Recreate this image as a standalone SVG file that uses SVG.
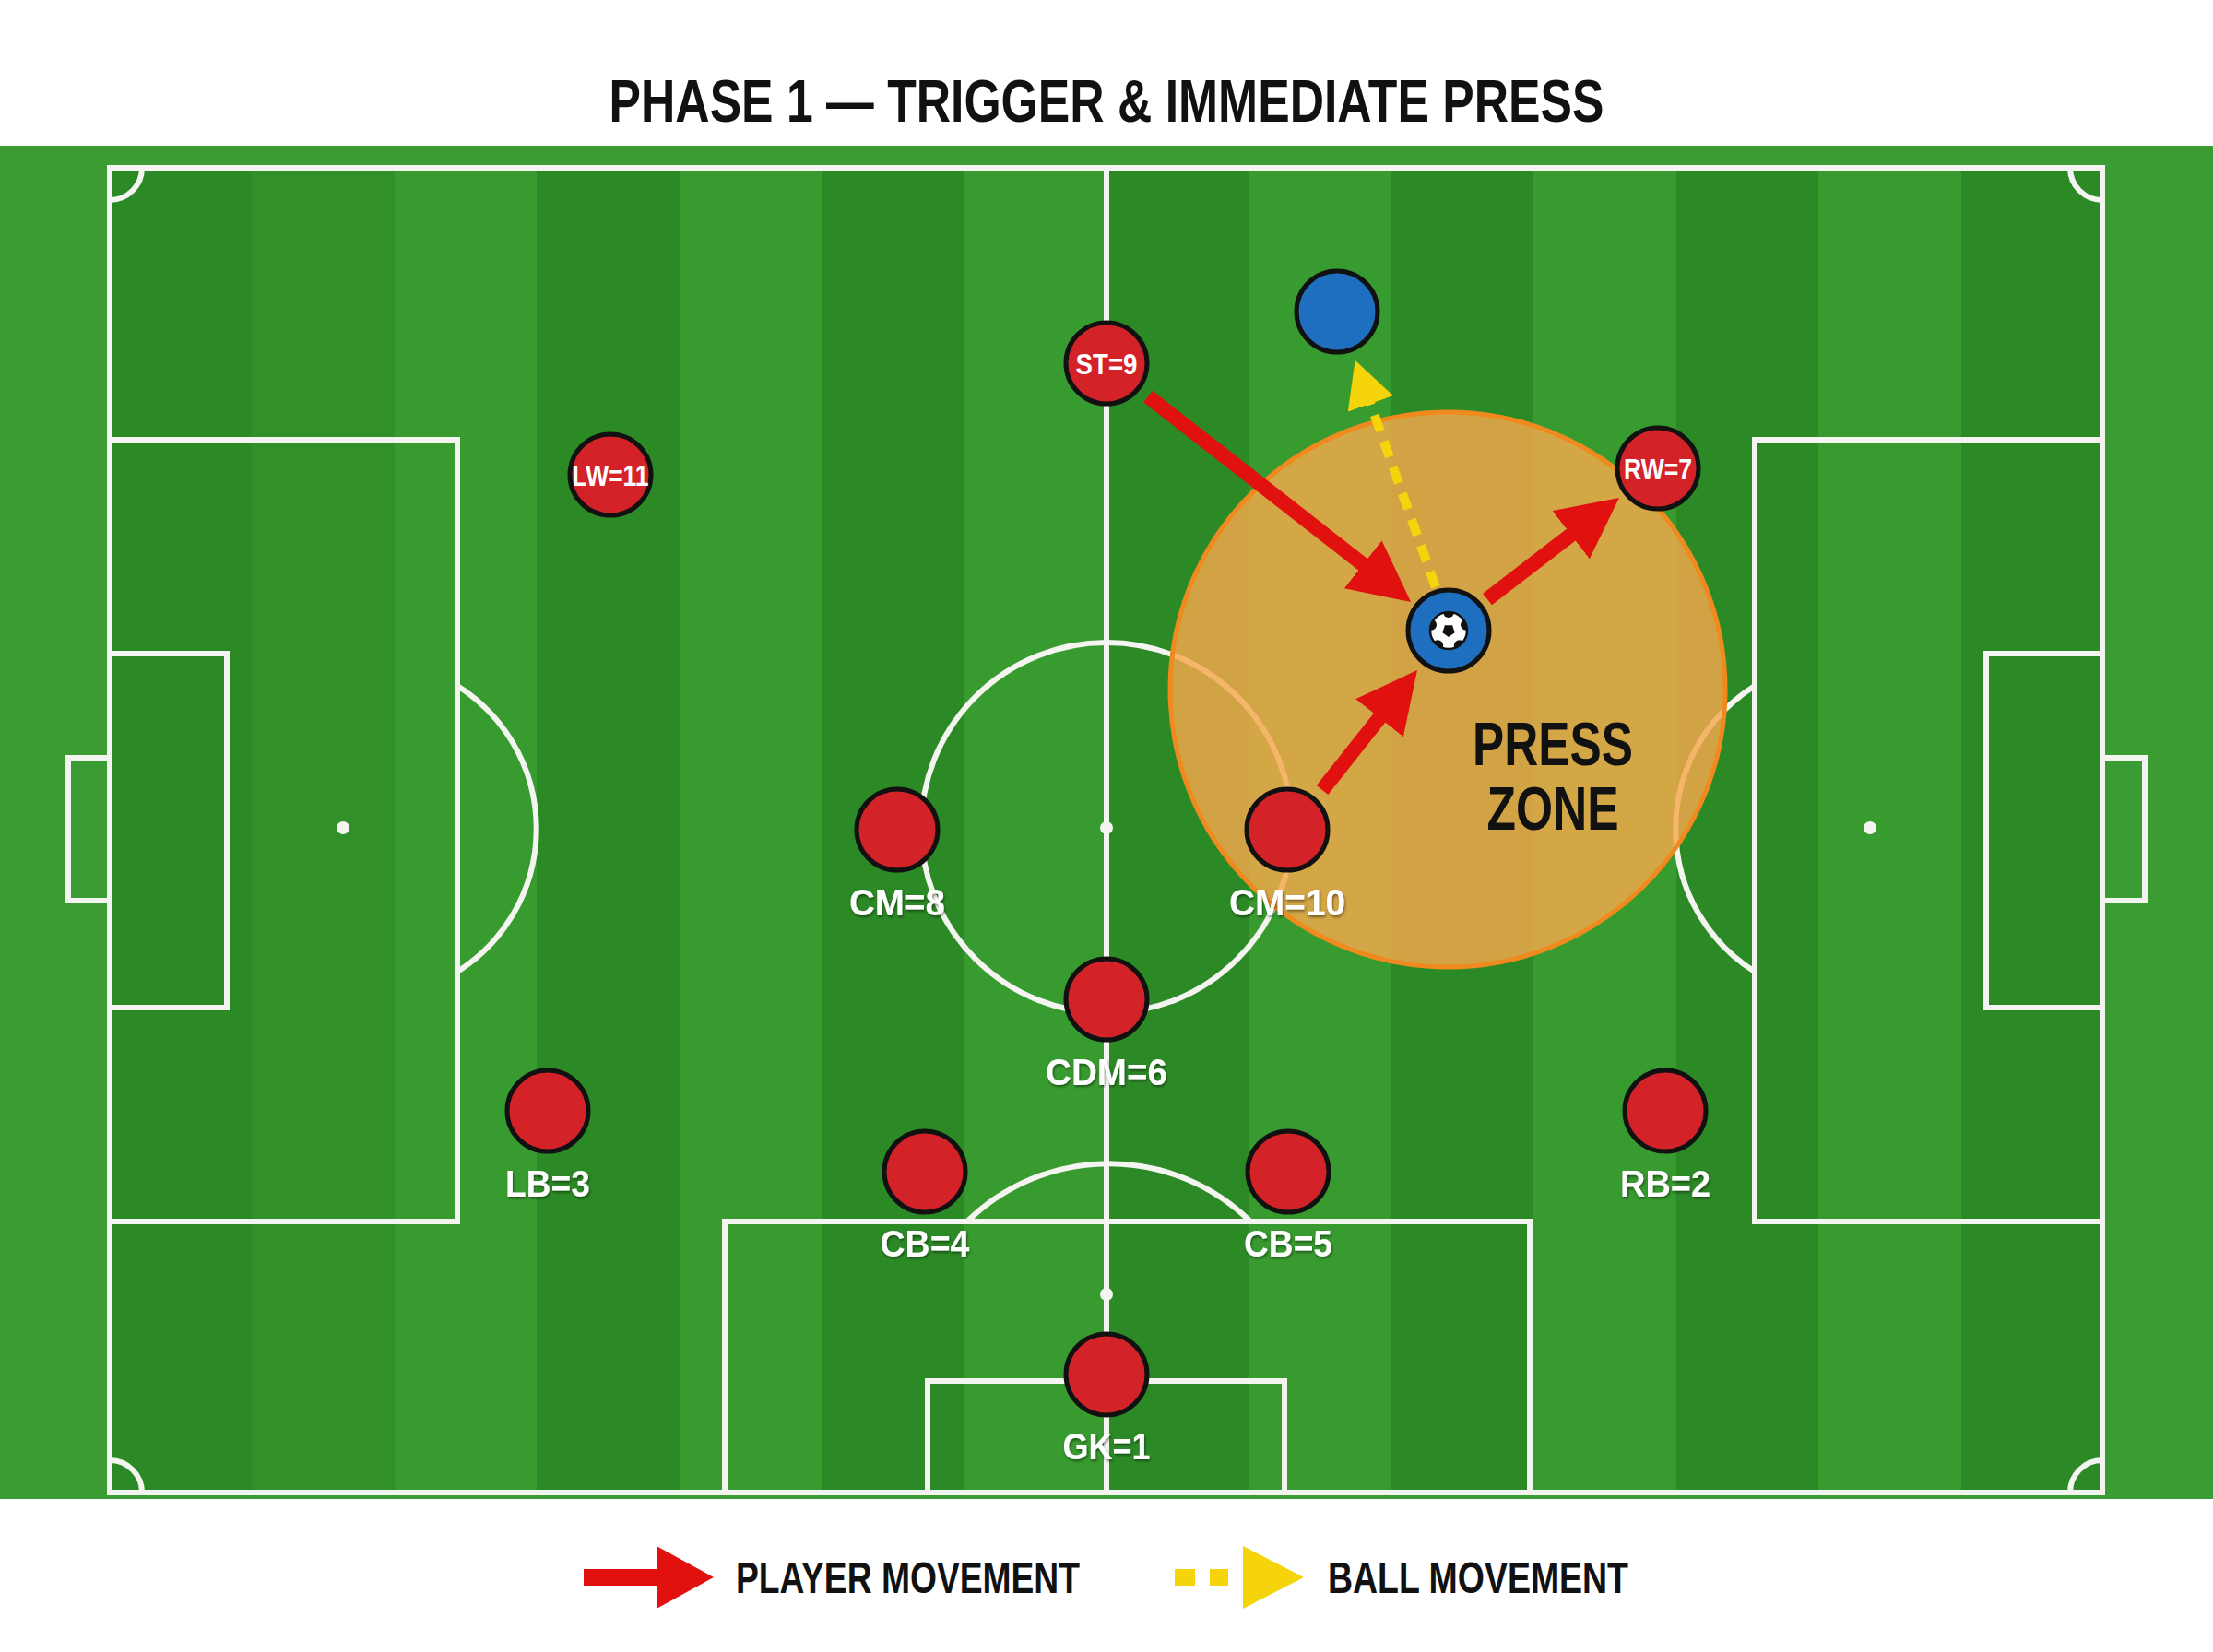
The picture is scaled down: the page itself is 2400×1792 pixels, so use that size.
<svg xmlns="http://www.w3.org/2000/svg" width="2400" height="1792" viewBox="0 0 2400 1792">
<style>
.t{font-family:"Liberation Sans Narrow","Liberation Sans",Arial,sans-serif;font-weight:bold}
.line{fill:none;stroke:#F4F4F0;stroke-width:6}
.spot{fill:#F4F4F0}
.dk{fill:#2C8A26}
.md{fill:#31902A}
.lt{fill:#389B30}
.player{fill:#D42229;stroke:#111;stroke-width:5}
.opp{fill:#1F6FC0;stroke:#111;stroke-width:5}
.lbl{fill:#FFFFFF;font-size:40px;text-anchor:middle}
.in{fill:#FFFFFF;font-size:31px;text-anchor:middle}
.mv{fill:none;stroke:#E0110E;stroke-width:16}
</style>
<defs>
<marker id="ah" viewBox="0 0 66 66" refX="10" refY="33" markerWidth="66" markerHeight="66" markerUnits="userSpaceOnUse" orient="auto"><path d="M0,0 L66,33 L0,66 z" fill="#E0110E"/></marker>
<marker id="ahY" viewBox="0 0 50 52" refX="1" refY="26" markerWidth="50" markerHeight="52" markerUnits="userSpaceOnUse" orient="auto"><path d="M0,0 L50,26 L0,52 z" fill="#F6D40C"/></marker>
<filter id="sh" x="-20%" y="-20%" width="140%" height="140%"><feDropShadow dx="1" dy="2" stdDeviation="1.5" flood-color="#000" flood-opacity="0.45"/></filter>
<clipPath id="ballclip"><circle cx="0" cy="0" r="20"/></clipPath>
</defs>

<rect x="0" y="0" width="2400" height="1792" fill="#FFFFFF"/>
<text class="t" x="1200" y="132" font-size="65" text-anchor="middle" fill="#111" textLength="1079" lengthAdjust="spacingAndGlyphs">PHASE 1 — TRIGGER &amp; IMMEDIATE PRESS</text>

<g id="pitch">
<rect x="0" y="158" width="2400" height="1468" fill="#3A9C33"/>
<rect class="dk" x="119" y="182" width="155" height="1440"/>
<rect class="md" x="273" y="182" width="156" height="1440"/>
<rect class="lt" x="428" y="182" width="155" height="1440"/>
<rect class="dk" x="582" y="182" width="156" height="1440"/>
<rect class="lt" x="737" y="182" width="155" height="1440"/>
<rect class="dk" x="891" y="182" width="156" height="1440"/>
<rect class="lt" x="1046" y="182" width="155" height="1440"/>
<rect class="dk" x="1200" y="182" width="155" height="1440"/>
<rect class="lt" x="1354" y="182" width="156" height="1440"/>
<rect class="dk" x="1509" y="182" width="155" height="1440"/>
<rect class="lt" x="1663" y="182" width="156" height="1440"/>
<rect class="dk" x="1818" y="182" width="155" height="1440"/>
<rect class="lt" x="1972" y="182" width="156" height="1440"/>
<rect class="dk" x="2127" y="182" width="154" height="1440"/>

<rect class="line" x="119" y="182" width="2161" height="1437"/>
<line class="line" x1="1200" y1="182" x2="1200" y2="1619"/>
<circle class="line" cx="1200" cy="898" r="201"/>
<circle class="spot" cx="1200" cy="898" r="7"/>
<!-- left -->
<rect class="line" x="119" y="477" width="377" height="848"/>
<rect class="line" x="119" y="709" width="127" height="384"/>
<rect class="line" x="74" y="822" width="45" height="155"/>
<circle class="spot" cx="372" cy="898" r="7"/>
<path class="line" d="M496,744 A183,183 0 0 1 496,1054"/>
<!-- right -->
<rect class="line" x="1903" y="477" width="377" height="848"/>
<rect class="line" x="2154" y="709" width="126" height="384"/>
<rect class="line" x="2280" y="822" width="46" height="155"/>
<circle class="spot" cx="2028" cy="898" r="7"/>
<path class="line" d="M1903,744 A183,183 0 0 0 1903,1054"/>
<!-- bottom -->
<rect class="line" x="786" y="1325" width="873" height="294"/>
<rect class="line" x="1006" y="1498" width="387" height="121"/>
<circle class="spot" cx="1200" cy="1404" r="7"/>
<path class="line" d="M1049,1325 A219,219 0 0 1 1356,1325"/>
<!-- corners -->
<path class="line" d="M119,217 A35,35 0 0 0 154,182"/>
<path class="line" d="M2245,182 A35,35 0 0 0 2280,217"/>
<path class="line" d="M154,1619 A35,35 0 0 0 119,1584"/>
<path class="line" d="M2280,1584 A35,35 0 0 0 2245,1619"/>
</g>

<g id="press-zone">
<circle cx="1570" cy="748" r="301" fill="#F5A84C" fill-opacity="0.82" stroke="#F08A1E" stroke-width="5"/>
<text class="t" x="1684" y="830" font-size="66" text-anchor="middle" fill="#111" textLength="174" lengthAdjust="spacingAndGlyphs">PRESS</text>
<text class="t" x="1684" y="900" font-size="66" text-anchor="middle" fill="#111" textLength="143" lengthAdjust="spacingAndGlyphs">ZONE</text>
</g>

<g id="connectors">
<line class="mv" x1="1245" y1="430" x2="1486" y2="618.5" marker-end="url(#ah)"/>
<line class="mv" x1="1613" y1="650" x2="1711.6" y2="574.1" marker-end="url(#ah)"/>
<line class="mv" x1="1434" y1="857" x2="1502.2" y2="770.9" marker-end="url(#ah)"/>
<line x1="1557" y1="637" x2="1486" y2="437" stroke="#F6D40C" stroke-width="10" stroke-dasharray="18 12" marker-end="url(#ahY)"/>
</g>

<g id="opponent">
<circle class="opp" cx="1450" cy="338" r="44"/>
</g>

<g id="ball-carrier">
<circle class="opp" cx="1571" cy="684" r="44"/>
<g transform="translate(1571,684)">
<circle cx="0" cy="0" r="20" fill="#FFFFFF"/>
<g clip-path="url(#ballclip)" fill="#111">
<polygon points="0,7 -6.66,2.16 -4.11,-5.66 4.11,-5.66 6.66,2.16"/>
<circle cx="0" cy="-20" r="6"/>
<circle cx="19" cy="-6.2" r="6"/>
<circle cx="11.8" cy="16.2" r="6"/>
<circle cx="-11.8" cy="16.2" r="6"/>
<circle cx="-19" cy="-6.2" r="6"/>
</g>
<circle cx="0" cy="0" r="20" fill="none" stroke="#111" stroke-width="2.5"/>
</g>
</g>

<g id="ST9"><circle class="player" cx="1200" cy="394" r="44"/><text class="t in" x="1200" y="406" textLength="67" lengthAdjust="spacingAndGlyphs">ST=9</text></g>
<g id="LW11"><circle class="player" cx="662" cy="515" r="44"/><text class="t in" x="662" y="527" textLength="83" lengthAdjust="spacingAndGlyphs">LW=11</text></g>
<g id="RW7"><circle class="player" cx="1798" cy="508" r="44"/><text class="t in" x="1798" y="520" textLength="74" lengthAdjust="spacingAndGlyphs">RW=7</text></g>
<g id="CM8"><circle class="player" cx="973" cy="900" r="44"/><text class="t lbl" filter="url(#sh)" x="973" y="993" textLength="104" lengthAdjust="spacingAndGlyphs">CM=8</text></g>
<g id="CM10"><circle class="player" cx="1396" cy="900" r="44"/><text class="t lbl" filter="url(#sh)" x="1396" y="993" textLength="126" lengthAdjust="spacingAndGlyphs">CM=10</text></g>
<g id="CDM6"><circle class="player" cx="1200" cy="1084" r="44"/><text class="t lbl" filter="url(#sh)" x="1200" y="1177" textLength="132" lengthAdjust="spacingAndGlyphs">CDM=6</text></g>
<g id="LB3"><circle class="player" cx="594" cy="1205" r="44"/><text class="t lbl" filter="url(#sh)" x="594" y="1298" textLength="92" lengthAdjust="spacingAndGlyphs">LB=3</text></g>
<g id="RB2"><circle class="player" cx="1806" cy="1205" r="44"/><text class="t lbl" filter="url(#sh)" x="1806" y="1298" textLength="98" lengthAdjust="spacingAndGlyphs">RB=2</text></g>
<g id="CB4"><circle class="player" cx="1003" cy="1271" r="44"/><text class="t lbl" filter="url(#sh)" x="1003" y="1363" textLength="97" lengthAdjust="spacingAndGlyphs">CB=4</text></g>
<g id="CB5"><circle class="player" cx="1397" cy="1271" r="44"/><text class="t lbl" filter="url(#sh)" x="1397" y="1363" textLength="96" lengthAdjust="spacingAndGlyphs">CB=5</text></g>
<g id="GK1"><circle class="player" cx="1200" cy="1491" r="44"/><text class="t lbl" filter="url(#sh)" x="1200" y="1583" textLength="95" lengthAdjust="spacingAndGlyphs">GK=1</text></g>

<g id="legend">
<rect x="633" y="1702" width="82" height="18" fill="#E0110E"/>
<polygon points="712,1677 774,1711 712,1745" fill="#E0110E"/>
<text class="t" x="798" y="1728" font-size="48" fill="#111" textLength="373" lengthAdjust="spacingAndGlyphs">PLAYER MOVEMENT</text>
<rect x="1274" y="1702" width="22" height="18" fill="#F6D40C"/>
<rect x="1312" y="1702" width="20" height="18" fill="#F6D40C"/>
<polygon points="1348,1677 1414,1711 1348,1745" fill="#F6D40C"/>
<text class="t" x="1440" y="1728" font-size="48" fill="#111" textLength="326" lengthAdjust="spacingAndGlyphs">BALL MOVEMENT</text>
</g>
</svg>
